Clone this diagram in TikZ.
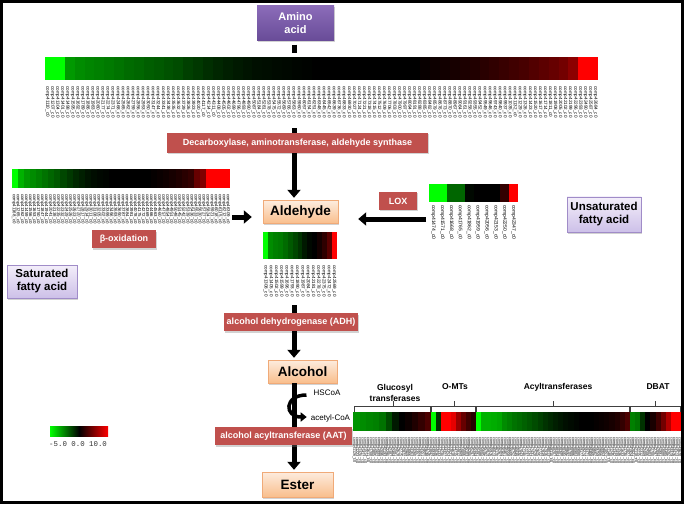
\documentclass[tikz,border=0pt]{standalone}
\usepackage{fontspec}
\setmainfont{Liberation Sans}
\setmonofont{Liberation Mono}
\usetikzlibrary{arrows.meta,shadows,calc}
\definecolor{enzred}{RGB}{192,80,77}
\definecolor{peachT}{RGB}{253,236,222}
\definecolor{peachB}{RGB}{249,190,140}
\definecolor{peachD}{RGB}{240,170,120}
\definecolor{lavT}{RGB}{243,238,250}
\definecolor{lavB}{RGB}{205,192,232}
\definecolor{lavD}{RGB}{160,140,200}
\definecolor{purT}{RGB}{140,108,185}
\definecolor{purB}{RGB}{104,76,152}
% heat map: x0 y0 x1 y1 N values
\newcommand\hmap[6]{%
  \foreach \v [count=\i from 0] in {#6} {%
    \pgfmathsetmacro\xa{#1+(#3-#1)/#5*\i}%
    \pgfmathsetmacro\xb{#1+(#3-#1)/#5*(\i+1)}%
    \pgfmathtruncatemacro\aa{abs(\v)}%
    \ifnum\v<0 \def\hc{green!\aa!black}\else\def\hc{red!\aa!black}\fi
    \fill[\hc] (\xa,#2) rectangle (\xb,#4);
  }}
% gene labels: x0 x1 ytop N fontsize seed
\newcommand\glabels[6]{%
  \foreach \i in {1,...,#4} {%
    \pgfmathtruncatemacro\num{1000+mod(\i*97+#6,8999)}%
    \pgfmathsetmacro\xg{#1+(#2-#1)/#4*(\i-0.5)}%
    \node[gl,font=\fontsize{#5}{#5}\selectfont,anchor=west,rotate=-90]
      (g#6n\i) at (\xg,#3) {comp4\num\_c0};
  }}
\begin{document}
\begin{tikzpicture}[x=1pt,y=-1pt,
  shad/.style={drop shadow={shadow xshift=1pt,shadow yshift=-1.5pt,opacity=.35}},
  enz/.style={shad,fill=enzred,text=white,font=\fontsize{9}{10}\selectfont\bfseries,inner sep=0pt},
  prod/.style={shad,top color=peachT,bottom color=peachB,draw=peachD,line width=.4pt,font=\fontsize{13.5}{14}\selectfont\bfseries,inner sep=0pt},
  fatty/.style={shad,top color=lavT,bottom color=lavB,draw=lavD,line width=.4pt,font=\fontsize{11.5}{13}\selectfont\bfseries,align=center,inner sep=0pt},
  aminobox/.style={shad,top color=purT,bottom color=purB,text=white,font=\fontsize{11}{13.5}\selectfont\bfseries,align=center,inner sep=0pt},
  flow/.style={line width=5pt,-{Triangle[width=13pt,length=8pt]}},
  seg/.style={line width=5pt},
  curv/.style={line width=3.5pt,-{Triangle[width=9pt,length=6pt]}},
  gl/.style={inner sep=0pt,text=black},
  area/.style={inner sep=0pt,draw=none},
  lab/.style={inner sep=0pt,font=\fontsize{8}{9}\selectfont},
  grp/.style={inner sep=0pt,align=center,font=\fontsize{8.5}{11}\selectfont\bfseries},
  brk/.style={line width=.6pt,black!75}]
\useasboundingbox (0,0) rectangle (685,505);
\fill[white] (0,0) rectangle (685,505);
\draw[line width=2.5pt] (1.5,1.5) rectangle (682.5,502.5);
\coordinate (ax) at (294,0);

% ---- heat maps ----
\hmap{45}{57}{598}{80}{56}{-100,-100,-60,-55,-52,-50,-48,-45,-42,-40,-37,-35,-32,-30,-25,-22,-18,-15,-12,-10,-8,-6,-5,-4,-3,-2,-1,0,0,0,0,0,0,0,0,0,0,0,3,5,7,9,11,13,16,19,22,25,28,32,36,40,45,55,100,100}
\glabels{45}{598}{86}{110}{4.6}{13}
\node[area,minimum width=553pt,minimum height=62pt,anchor=north west] (hmtop) at (45,57) {};

\hmap{12}{169}{230}{188}{36}{-100,-70,-60,-55,-50,-45,-40,-35,-28,-22,-16,-12,-8,-5,-3,-2,0,0,0,0,0,0,0,2,4,6,9,12,16,20,40,50,100,100,100,100}
\glabels{12}{230}{194}{54}{4.4}{71}
\node[area,minimum width=218pt,minimum height=57pt,anchor=north west] (hmleft) at (12,169) {};

\hmap{263}{232}{337}{259}{15}{-100,-55,-50,-48,-42,-35,-28,-20,-10,-3,0,8,18,35,100}
\glabels{263}{337}{265}{14}{4.6}{211}
\node[area,minimum width=74pt,minimum height=68pt,anchor=north west] (hmald) at (263,232) {};

\hmap{429}{184}{518}{202}{10}{-100,-100,-40,-40,-3,0,0,0,20,100}
\glabels{429}{518}{205}{10}{5}{377}
\node[area,minimum width=89pt,minimum height=53pt,anchor=north west] (hmlox) at (429,184) {};

\hmap{353}{412}{431}{431}{12}{-58,-55,-52,-50,-45,-30,-10,0,5,12,20,30}
\hmap{431}{412}{476}{431}{9}{-100,-20,100,100,90,60,40,25,15}
\hmap{476}{412}{630}{431}{30}{-100,-70,-70,-68,-65,-55,-50,-45,-42,-38,-34,-30,-25,-20,-16,-12,-9,-6,-4,-2,0,0,0,2,4,6,9,13,20,30}
\hmap{630}{412}{681}{431}{10}{-50,-45,-20,0,10,25,45,70,100,100}
\glabels{353}{681}{437}{120}{3.8}{29}

% group labels and brackets
\node[grp] (glu) at (395,392.5) {Glucosyl\\transferases};
\node[grp] (omt) at (455,387) {O-MTs};
\node[grp] (acyl) at (558,387) {Acyltransferases};
\node[grp] (dbat) at (658,387) {DBAT};
\draw[brk] (354,412) -- (354,406) -- (430.5,406) -- (430.5,412) (393,406) -- (393,401);
\draw[brk] (431.5,412) -- (431.5,406) -- (475.5,406) -- (475.5,412) (454,406) -- (454,401);
\draw[brk] (476.5,412) -- (476.5,406) -- (629.5,406) -- (629.5,412) (553,406) -- (553,401);
\draw[brk] (630.5,412) -- (630.5,406) -- (680,406) -- (680,412) (655,406) -- (655,401);

% legend
\shade[left color=green,right color=black] (50,426) rectangle (79,436);
\shade[left color=black,right color=red] (79,426) rectangle (108,436);
\node[inner sep=0pt,anchor=west,font=\ttfamily\fontsize{7.4}{8}\selectfont,text=black!80] (legtxt) at (49,444) {-5.0 0.0 10.0};

% ---- boxes ----
\node[aminobox,minimum width=77pt,minimum height=35pt] (amino) at (295.5,23) {Amino\\acid};
\node[enz,minimum width=261pt,minimum height=20pt] (decarb) at (297.5,143) {Decarboxylase, aminotransferase, aldehyde synthase};
\node[prod,minimum width=75pt,minimum height=23pt] (ald) at (300.5,212) {Aldehyde};
\node[enz,minimum width=38pt,minimum height=18pt] (lox) at (398,201) {LOX};
\node[enz,minimum width=64pt,minimum height=18pt] (beta) at (124,239) {β-oxidation};
\node[fatty,minimum width=70pt,minimum height=33pt] (sat) at (42,281.5) {Saturated\\fatty acid};
\node[fatty,minimum width=74pt,minimum height=35pt] (unsat) at (604,214.5) {Unsaturated\\fatty acid};
\node[enz,minimum width=134pt,minimum height=18pt] (adh) at (291,322) {alcohol dehydrogenase (ADH)};
\node[prod,minimum width=69pt,minimum height=23pt] (alc) at (302.5,371.5) {Alcohol};
\node[prod,minimum width=71pt,minimum height=25pt] (ester) at (297.5,484.5) {Ester};
\node[lab] (hscoa) at (327,393) {HSCoA};
\node[lab] (acoa) at (330.5,418) {acetyl-CoA};

% ---- connectors ----
\draw[seg,shorten <=4pt,shorten >=4pt] (amino.south -| ax) -- (hmtop.north -| ax);
\draw[seg,shorten <=9pt] (hmtop.south -| ax) -- (decarb.north -| ax);
\draw[flow,shorten >=2.5pt] (decarb.south -| ax) -- (ald.north -| ax);
\draw[flow,shorten <=2pt,shorten >=11pt] ($(hmleft.east |- ald.center)+(0,5)$) -- ($(ald.west)+(0,5)$);
\draw[flow,shorten <=3pt,shorten >=20pt] ($(hmlox.west |- ald.center)+(0,7)$) -- ($(ald.east)+(0,7)$);
\draw[seg,shorten <=5pt] (hmald.south -| ax) -- (adh.north -| ax);
\draw[flow,shorten >=2pt] (adh.south -| ax) -- (alc.north -| ax);
\draw[flow,shorten >=2pt] (alc.south -| ax) -- (ester.north -| ax);
\draw[curv] ($(hscoa.west)+(-7,2)$) .. controls (284,395) and (284,417) .. ($(acoa.west)+(-4,-1)$);

\node[enz,minimum width=137pt,minimum height=18pt] (aat) at (283.5,436) {alcohol acyltransferase (AAT)};
\end{tikzpicture}
\end{document}
